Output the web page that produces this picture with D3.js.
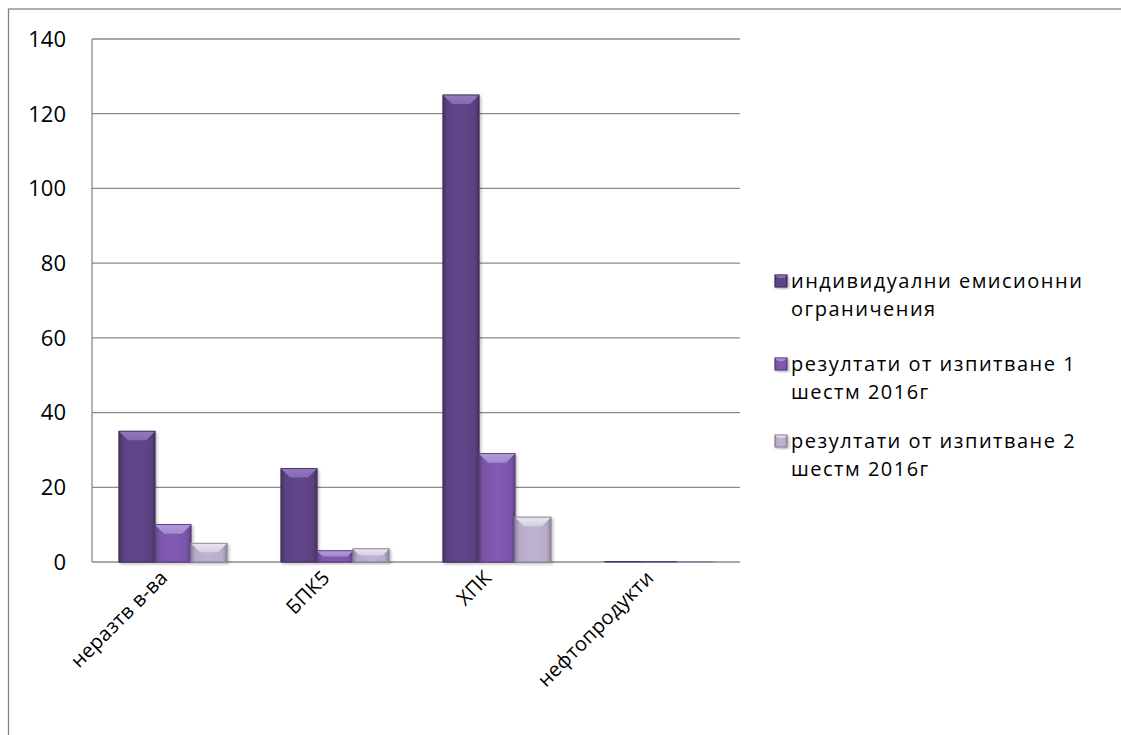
<!DOCTYPE html>
<html>
<head>
<meta charset="utf-8">
<script src="https://cdn.jsdelivr.net/npm/d3@7"></script>
<style>
  body { margin: 0; background: #fff; }
  svg text { font-family: "Open Sans", "DejaVu Sans", sans-serif; fill: #000; }
</style>
</head>
<body>
<svg id="chart" width="1121" height="735"></svg>
<script>
// data
const categories = ['неразтв в-ва', 'БПК5', 'ХПК', 'нефтопродукти'];
const seriesNames = [
    ['индивидуални емисионни', 'ограничения'],
    ['резултати от изпитване 1', 'шестм 2016г'],
    ['резултати от изпитване 2', 'шестм 2016г']
];
const limits = [35, 25, 125, 0.2];
const results1 = [10, 3, 29, 0.2];
const results2 = [5, 3.5, 12, 0.2];
const yTicks = [0, 20, 40, 60, 80, 100, 120, 140];

const allSeries = [limits, results1, results2];
// base, light top, dark edge
const colors = [
    { base: '#5c4283', top: '#9477c2', edge: '#46325f' },
    { base: '#7a56a9', top: '#b39ae0', edge: '#5c4182' },
    { base: '#b6abc8', top: '#ebe6f4', edge: '#8f849f' }
];

const svg = d3.select('#chart');
const plotLeft = 92, plotRight = 740, plotTop = 39, plotBottom = 562;

// outer frame
svg.append('rect')
    .attr('x', 8.5).attr('y', 9)
    .attr('width', 1130).attr('height', 740)
    .attr('fill', 'none')
    .attr('stroke', '#868686')
    .attr('stroke-width', 1.3);

const x0 = d3.scaleBand().domain(categories).range([plotLeft, plotRight])
    .paddingInner(1 / 3).paddingOuter(1 / 6);
const x1 = d3.scaleBand().domain([0, 1, 2]).range([0, x0.bandwidth()]);
const y = d3.scaleLinear().domain([0, 140]).range([plotBottom, plotTop]);

// gridlines
svg.append('g')
    .selectAll('line')
    .data(yTicks)
    .join('line')
    .attr('x1', plotLeft).attr('x2', plotRight)
    .attr('y1', d => y(d)).attr('y2', d => y(d))
    .attr('stroke', '#8a8a8a')
    .attr('stroke-width', 1.3);

// y axis line
svg.append('line')
    .attr('x1', plotLeft).attr('x2', plotLeft)
    .attr('y1', plotTop).attr('y2', plotBottom)
    .attr('stroke', '#8a8a8a')
    .attr('stroke-width', 1.3);

// y tick labels
svg.append('g')
    .selectAll('text')
    .data(yTicks)
    .join('text')
    .attr('x', 66)
    .attr('y', d => y(d))
    .attr('dy', '0.36em')
    .attr('text-anchor', 'end')
    .attr('font-size', 22)
    .text(d => d);

// gradients
const defs = svg.append('defs');
colors.forEach((c, i) => {
    const g = defs.append('linearGradient').attr('id', 'body' + i);
    g.append('stop').attr('offset', '0%').attr('stop-color', c.edge);
    g.append('stop').attr('offset', '12%').attr('stop-color', c.base);
    g.append('stop').attr('offset', '50%').attr('stop-color', d3.color(c.base).brighter(0.15));
    g.append('stop').attr('offset', '88%').attr('stop-color', c.base);
    g.append('stop').attr('offset', '100%').attr('stop-color', c.edge);
    const t = defs.append('linearGradient').attr('id', 'top' + i)
        .attr('x1', 0).attr('x2', 0).attr('y1', 0).attr('y2', 1);
    t.append('stop').attr('offset', '0%').attr('stop-color', c.top);
    t.append('stop').attr('offset', '100%').attr('stop-color', d3.color(c.top).darker(0.3));
});
const sh = defs.append('filter').attr('id', 'shadow')
    .attr('x', '-20%').attr('y', '-10%').attr('width', '150%').attr('height', '130%');
sh.append('feDropShadow').attr('dx', 1.5).attr('dy', 1.5).attr('stdDeviation', 1.5)
    .attr('flood-color', '#000').attr('flood-opacity', 0.3);

function bevelBar(g, bx, by, bw, bh, i) {
    const bevel = Math.min(9, bh / 2, bw / 4);
    g.append('rect')
        .attr('x', bx).attr('y', by)
        .attr('width', bw).attr('height', bh)
        .attr('fill', 'url(#body' + i + ')')
        .attr('stroke', colors[i].edge)
        .attr('stroke-width', 0.8)
        .attr('filter', 'url(#shadow)');
    if (bh > 1.5) {
        g.append('polygon')
            .attr('points', [
                [bx, by], [bx + bw, by],
                [bx + bw - bevel, by + bevel], [bx + bevel, by + bevel]
            ].map(p => p.join(',')).join(' '))
            .attr('fill', 'url(#top' + i + ')');
        g.append('rect')
            .attr('x', bx).attr('y', by)
            .attr('width', bw).attr('height', bh)
            .attr('fill', 'none')
            .attr('stroke', colors[i].edge)
            .attr('stroke-width', 0.8);
    }
}

// bars
const bars = svg.append('g');
categories.forEach((cat, ci) => {
    allSeries.forEach((vals, si) => {
        const bx = x0(cat) + x1(si);
        const by = y(vals[ci]);
        bevelBar(bars, bx, by, x1.bandwidth(), y(0) - by, si);
    });
});

// x labels
svg.append('g')
    .selectAll('text')
    .data(categories)
    .join('text')
    .attr('transform', d => `translate(${x0(d) + x0.bandwidth() / 2 - 9},${574}) rotate(-45)`)
    .attr('text-anchor', 'end')
    .attr('dy', '0.35em')
    .attr('font-size', 20)
    .attr('letter-spacing', 0.3)
    .text(d => d);

// legend
const legend = svg.append('g');
const legendY = [288, 371, 448];
seriesNames.forEach((lines, i) => {
    const ly = legendY[i];
    const m = legend.append('g');
    bevelBar(m, 775, ly - 13, 12, 12, i);
    lines.forEach((txt, li) => {
        legend.append('text')
            .attr('x', 791)
            .attr('y', ly + li * 28)
            .attr('font-size', 20)
            .attr('letter-spacing', 1.5)
            .text(txt);
    });
});
</script>
</body>
</html>
